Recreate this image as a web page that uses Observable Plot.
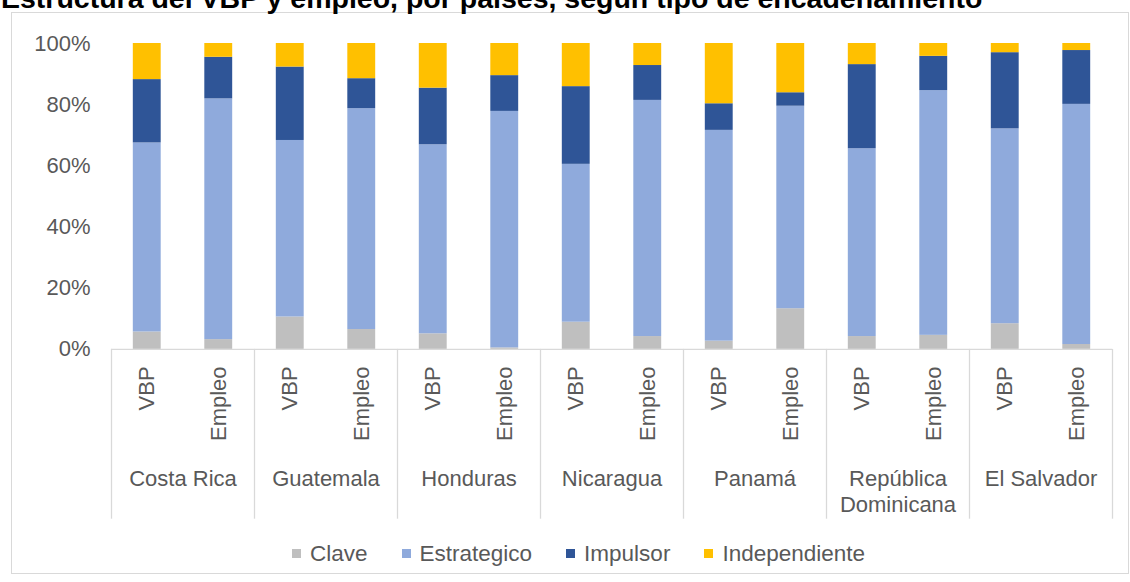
<!DOCTYPE html>
<html><head><meta charset="utf-8">
<script src="https://cdn.jsdelivr.net/npm/d3@7"></script>
<script src="https://cdn.jsdelivr.net/npm/@observablehq/plot@0.6"></script>
<style>
body{margin:0;background:#fff;overflow:hidden;width:1130px;height:582px;position:relative;font-family:"Liberation Sans",Arial,sans-serif;}
#frame{position:absolute;left:11px;top:12px;width:1116px;height:560px;border:1px solid #d9d9d9;pointer-events:none;}
#title{position:absolute;left:1px;top:-16px;font:bold 28.5px "Liberation Sans",Arial,sans-serif;line-height:28.5px;color:#000;white-space:nowrap;}
#chart{position:absolute;left:0;top:0;}
#legend{position:absolute;left:292px;top:537px;}
.lg-swatches{font:22.5px "Liberation Sans",Arial,sans-serif;color:#595959;}
.lg-swatch{margin-right:34px;}
.lg-swatch > svg{margin-right:9px;}
</style></head><body>
<div id="chart"></div>
<div id="frame"></div>
<div id="title">Estructura del VBP y empleo, por países, según tipo de encadenamiento</div>
<div id="legend"></div>
<script>
const countries = ["Costa Rica","Guatemala","Honduras","Nicaragua","Panamá","República\nDominicana","El Salvador"];
const measures = ["VBP","Empleo"];
const types = ["Clave","Estrategico","Impulsor","Independiente"];
const colors = ["#bfbfbf","#8faadc","#2f5597","#ffc000"];
const yTicks = [0,20,40,60,80,100];
// shares (%) per bar: CR VBP, CR Empleo, GT VBP, GT Empleo, ...
const clave         = [5.7,3.2,10.6,6.5,5.1,0.5,8.9,4.2,2.7,13.3,4.2,4.6,8.4,1.6];
const estrategico   = [61.8,78.7,57.7,72.2,61.8,77.3,51.6,77.2,68.9,66.2,61.4,80.0,63.7,78.5];
const impulsor      = [20.7,13.6,24.0,9.8,18.5,11.7,25.4,11.4,8.7,4.4,27.5,11.2,24.9,17.6];
const independiente = [11.8,4.5,7.7,11.5,14.6,10.5,14.1,7.2,19.7,16.1,6.9,4.2,3.0,2.3];

const series = [clave, estrategico, impulsor, independiente];
const rows = [];
for (let i = 0; i < clave.length; i++) {
  let acc = 0;
  types.forEach((t, k) => {
    const v = series[k][i];
    rows.push({pos: i, type: t, y1: acc, y2: acc + v});
    acc += v;
  });
}
const subLabels = d3.range(clave.length).map(i => ({pos: i + 0.5, text: measures[i % 2]}));
const groupLabels = countries.map((c, g) => ({pos: 2 * g + 1, text: c}));
const seps = d3.range(0, clave.length + 1, 2);
const yMin = -59.2;
const txt = "#595959", grid = "#d9d9d9";

const chart = Plot.plot({
  width: 1130, height: 530,
  marginTop: 43, marginBottom: 0, marginLeft: 111, marginRight: 18,
  x: {domain: [0, clave.length], axis: null},
  y: {domain: [yMin, 100], axis: null},
  color: {domain: types, range: colors},
  style: {fontFamily: "Liberation Sans, Arial, sans-serif", color: txt, background: "none"},
  marks: [
    Plot.rect(rows, {x1: d => d.pos + 0.305, x2: d => d.pos + 0.695, y1: "y1", y2: "y2", fill: "type"}),
    Plot.ruleY([0], {stroke: grid, strokeWidth: 1.3}),
    Plot.ruleX(seps, {y1: 0, y2: -55.5, stroke: grid, strokeWidth: 1.3}),
    Plot.axisY({ticks: yTicks, tickFormat: d => d + "%", tickSize: 0, tickPadding: 21, fontSize: 22, fill: txt}),
    Plot.text(subLabels, {x: "pos", y: 0, text: "text", rotate: -90, textAnchor: "end", dy: 17, fontSize: 22, fill: txt}),
    Plot.text(groupLabels, {x: "pos", y: 0, text: "text", lineAnchor: "top", dy: 119, fontSize: 22, lineHeight: 1.15, fill: txt})
  ]
});
document.getElementById("chart").appendChild(chart);
const leg = Plot.legend({color: {domain: types, range: colors}, swatchSize: 9, className: "lg"});
document.getElementById("legend").appendChild(leg);
</script>
</body></html>
